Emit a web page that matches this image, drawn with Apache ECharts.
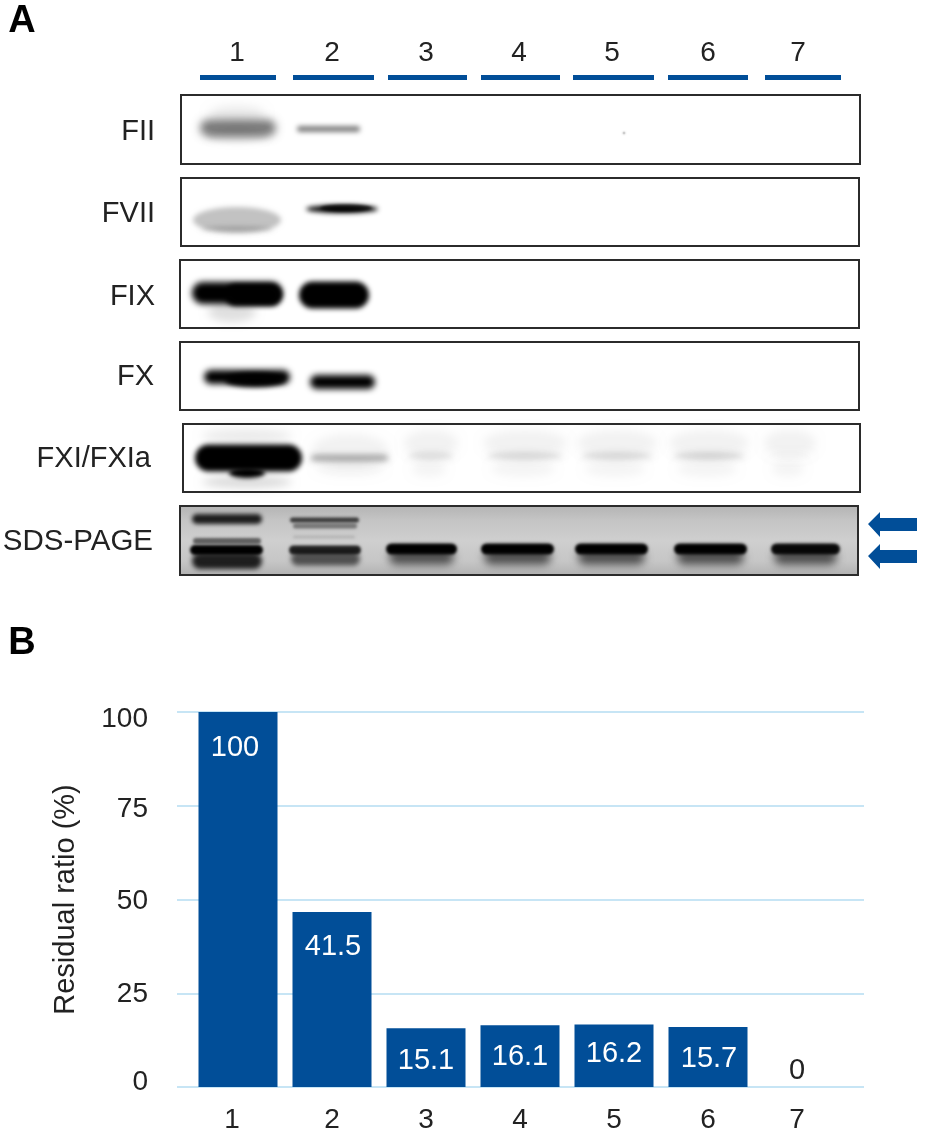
<!DOCTYPE html>
<html><head><meta charset="utf-8">
<style>html,body{margin:0;padding:0;background:#fff}#c{width:925px;height:1139px}</style>
<script src="https://cdn.jsdelivr.net/npm/echarts@6/dist/echarts.min.js"></script>
</head><body><div id="c"></div>
<script>
// ---- chart data ----
const categories = ['1','2','3','4','5','6','7'];
const barHeights = [100, 46.7, 15.7, 16.5, 16.7, 16.0, 0];
const barLabels = ['100','41.5','15.1','16.1','16.2','15.7','0'];
const yTicks = [0,25,50,75,100];
const blotRows = ['FII','FVII','FIX','FX','FXI/FXIa','SDS-PAGE'];

// ---- blot band darkness per lane (0 to 1) ----
const bandFII  = [0.52,0.5,0,0,0,0,0];
const bandFVII = [0.24,1,0,0,0,0,0];
const bandFIX  = [1,1,0,0,0,0,0];
const bandFX   = [1,1,0,0,0,0,0];
const bandFXI  = [1,0.42,0.12,0.15,0.15,0.17,0.02];
const bandSDS  = [1,0.85,1,1,1,1,0.95];

const FONT = '"Liberation Sans", Arial, sans-serif';
const BLUE = '#014e98';
const INK = '#222';
const FAR = 3000;
const g = [];
const txt = (s,x,y,size,align,extra) => g.push({type:'text',z:20,x,y,style:Object.assign({text:s,font:size+'px '+FONT,fill:INK,textAlign:align||'center',textVerticalAlign:'middle'},extra||{})});
const gray = d => 'rgba(0,0,0,'+d+')';
// soft shapes: only the blurred shadow of an off-canvas shape is visible
function band(x0,x1,cy,h,d,blur){
  g.push({type:'rect',z:5,silent:true,shape:{x:x0-FAR,y:cy-h/2,width:x1-x0,height:h,r:h/2},
    style:{fill:'#000',shadowBlur:blur==null?4:blur,shadowColor:gray(d),shadowOffsetX:FAR}});
}
function oval(cx,cy,rx,ry,d,blur){
  g.push({type:'ellipse',z:5,silent:true,shape:{cx:cx-FAR,cy,rx,ry},
    style:{fill:'#000',shadowBlur:blur==null?4:blur,shadowColor:gray(d),shadowOffsetX:FAR}});
}

// letters
txt('A',22,22,38,'center',{font:'bold 38px '+FONT,fill:'#000'});
txt('B',22,644,38,'center',{font:'bold 38px '+FONT,fill:'#000'});

// lane labels + bars above blot
const laneCx=[237,332,426,519,612,708,798];
const laneBar=[[200,276],[293,374],[388,467],[481,560],[573,654],[668,748],[765,841]];
categories.forEach((c,i)=>{
  txt(c,laneCx[i],53,28);
  g.push({type:'rect',z:6,shape:{x:laneBar[i][0],y:75,width:laneBar[i][1]-laneBar[i][0],height:5},style:{fill:BLUE}});
});

// panel frames
const frames=[[181,95,679,69],[181,178,678,68],[180,260,679,68],[180,342,679,68],[183,424,677,68],[180,506,678,69]];
const labelPos=[[155,132],[155,214],[155,297],[154,377],[151,459],[153,542]];
blotRows.forEach((r,i)=>{
  const f=frames[i];
  if(i===5){
    g.push({type:'rect',z:1,shape:{x:f[0],y:f[1],width:f[2],height:f[3]},style:{fill:new echarts.graphic.LinearGradient(0,0,0,1,[{offset:0,color:'#b4b4b4'},{offset:0.2,color:'#c4c4c4'},{offset:0.5,color:'#cfcfcf'},{offset:0.8,color:'#c6c6c6'},{offset:1,color:'#b2b2b2'}])}});
  }
  txt(r,labelPos[i][0],labelPos[i][1],i===5?29.5:29,'right');
});

// FII
oval(237,114,28,8,0.08,10);
band(200,276,128,17,bandFII[0],8);
oval(237,136,30,6,0.1,6);
band(297,360,129,6,bandFII[1],5);
oval(624,133,1,1,0.5,2);
// FVII
oval(237,220,44,13,bandFVII[0],5);
oval(237,229,36,3,0.16,5);
oval(342,209,36,4,bandFVII[1],5);
oval(346,208,26,3.5,0.7,3);
// FIX
band(192,282,293,22,bandFIX[0],6);
band(225,282,295,22,bandFIX[0],5);
oval(232,312,24,10,0.12,9);
band(299,369,295,27,bandFIX[1],5);
// FX
band(204,290,377,14,bandFX[0],6);
oval(255,380,30,7,bandFX[0],5);
band(310,375,382,14,bandFX[1],6);
// FXI/FXIa
oval(247,436,45,7,0.08,10);
oval(247,482,45,6,0.14,8);
band(195,302,458,27,bandFXI[0],5);
oval(247,473,18,5,bandFXI[0],4);
band(311,388,458,5,bandFXI[1],6);
oval(350,450,38,16,0.05,10);
oval(350,468,34,8,0.04,8);
[[431,27,2],[525,42,3],[617,40,4],[709,40,5],[790,26,6]].forEach(([cx,rx,k])=>{
  oval(cx,443,rx,13,0.05,10);
  oval(cx,456,rx-4,3.5,bandFXI[k],6);
  oval(cx-2,469,rx-10,8,0.04,9);
});
// SDS-PAGE
const sdsLanes=[[385,458],[480,555],[574,649],[673,748],[770,841]];
band(192,262,519,10,0.85,4);
band(193,261,541,6,0.55,3);
band(190,263,550,10,bandSDS[0],3);
band(192,262,561,16,0.85,5);
band(290,359,520,5,0.7,3);
band(293,357,526,5,0.42,3);
band(293,355,537,3,0.12,3);
band(289,361,550,9,bandSDS[1],3);
band(291,360,559,13,0.6,5);
sdsLanes.forEach(([a,b],k)=>{
  band(a+1,b-1,549,11,bandSDS[k+2],3);
  band(a+4,b-4,557,15,0.62,8);
});

// frames on top of bands
frames.forEach(f=>{
  g.push({type:'rect',z:10,shape:{x:f[0],y:f[1],width:f[2],height:f[3]},style:{fill:'none',stroke:'#2b2b2b',lineWidth:2}});
});

// arrows
[524,556].forEach(y=>{
  g.push({type:'polygon',z:10,shape:{points:[[868,y],[880,y-12],[880,y-6],[917,y-6],[917,y+7],[880,y+7],[880,y+13]]},style:{fill:BLUE}});
});

const rs=(pad)=>({fontSize:28,fontFamily:FONT,color:INK,padding:pad});
const xRich={t:rs([0,0,0,0]),a:rs([0,12,0,0]),b:rs([0,10,0,0])};
const yRich={v100:rs([14,0,0,0]),v75:rs([8,0,0,0]),v50:rs([4,0,0,0]),v25:rs([2,0,0,0]),v0:rs([0,0,10,0])};
const labelOffsetX=[-3,1,0,0,0,1,-5];
const labelDistance=[21,21,18,17,15,17,2];

const option={
  animation:false,
  textStyle:{fontFamily:FONT},
  graphic:{elements:g},
  grid:[
    {left:177,top:712,width:687,height:375,containLabel:false},
    {left:191,top:712,width:658,height:375,containLabel:false}
  ],
  xAxis:[
    {gridIndex:0,type:'category',data:categories,show:false},
    {gridIndex:1,type:'category',data:categories,axisLine:{show:false},axisTick:{show:false},
     axisLabel:{margin:19,rich:xRich,formatter:v=>v==='1'?'{a|'+v+'}':v==='7'?'{b|'+v+'}':'{t|'+v+'}'}}
  ],
  yAxis:[
    {gridIndex:0,type:'value',min:0,max:100,interval:25,
     name:'Residual ratio (%)',nameLocation:'middle',nameGap:97,nameRotate:90,
     nameTextStyle:{fontSize:29,fontFamily:FONT,color:INK},
     axisLine:{show:false},axisTick:{show:false},
     axisLabel:{margin:29,rich:yRich,formatter:v=>'{v'+v+'|'+v+'}'},
     splitLine:{show:true,lineStyle:{color:'#b5dcf2',width:1.5}}},
    {gridIndex:1,type:'value',min:0,max:100,interval:25,show:false}
  ],
  series:[{
    type:'bar',xAxisIndex:1,yAxisIndex:1,barWidth:79,
    itemStyle:{color:BLUE},
    data:barHeights.map((v,i)=>({value:v,label:{
      show:true,formatter:barLabels[i],
      position:v===0?'top':'insideTop',
      distance:labelDistance[i],
      offset:[labelOffsetX[i],0],
      color:v===0?INK:'#fff',fontSize:29,fontFamily:FONT
    }}))
  }]
};
const chart=echarts.init(document.getElementById('c'),null,{renderer:'canvas'});
chart.setOption(option);
</script></body></html>
